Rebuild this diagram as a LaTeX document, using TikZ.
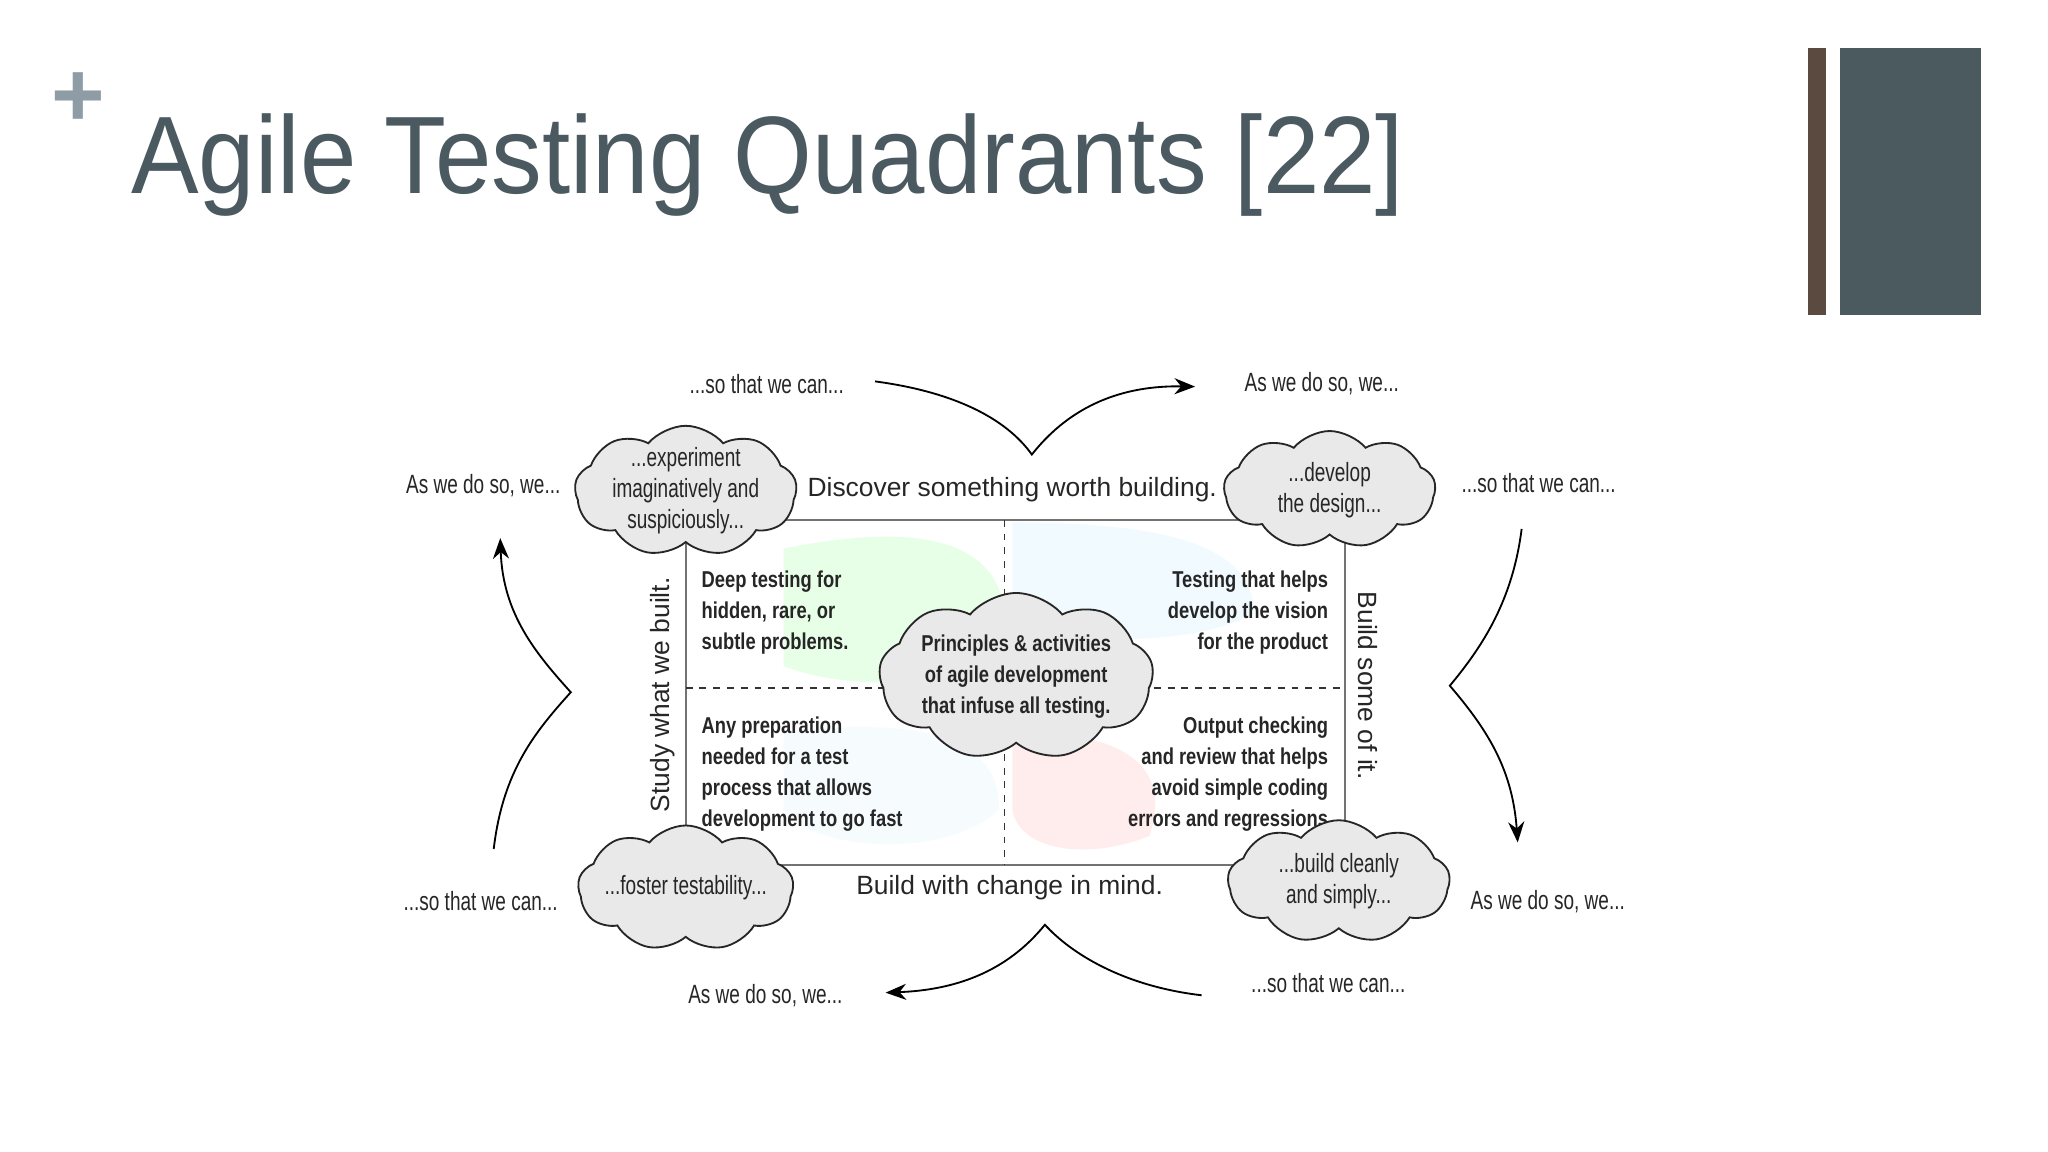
\documentclass[tikz,border=0pt]{standalone}
\usepackage{fontspec}
\setmainfont{Liberation Sans}
\newfontfamily\hand{Liberation Sans}[FakeStretch=0.72]
\newfontfamily\narrowb{Liberation Sans}[FakeStretch=0.8]
\usetikzlibrary{shapes.symbols,arrows.meta}
\definecolor{titlec}{HTML}{4B5A60}
\definecolor{plusc}{HTML}{8E9CA6}
\definecolor{brownc}{HTML}{5A4A3F}
\definecolor{slatec}{HTML}{4B5A5F}
\definecolor{cloudf}{HTML}{E9E9E9}
\tikzset{
 cl/.style={cloud, cloud puffs=9, cloud puff arc=100, draw=black!85, thick, fill=cloudf, inner sep=0pt},
 ct/.style={align=center, font=\hand\fontsize{11.5}{13.5}\selectfont, text=black!85},
 hand/.style={font=\hand\fontsize{11.5}{14}\selectfont, text=black!85},
 qt/.style={font=\narrowb\bfseries\fontsize{10}{13.5}\selectfont, text=black!85},
 edge/.style={font=\fontsize{11.5}{14}\selectfont, text=black!85},
 arr/.style={thick, -{Stealth[length=9pt,width=7pt]}},
 frame/.style={draw=black!55, thick}
}
\begin{document}
\begin{tikzpicture}[x=0.02cm,y=-0.02cm]
\useasboundingbox[fill=white] (0,0) rectangle (1568,882);
% title
\node[text=plusc, font=\bfseries\fontsize{40}{40}\selectfont] (plus) at (60,76) {+};
\node[anchor=base west, text=titlec, font=\fontsize{48}{50}\selectfont\addfontfeature{FakeStretch=0.92}, inner sep=0] (title) at (100,148) {Agile Testing Quadrants [22]};
\fill[brownc] (1384,37) rectangle (1398,241);
\fill[slatec] (1409,37) rectangle (1517,241);
% faded colours
\fill[green!30, opacity=0.3] (600,420) .. controls (700,400) and (770,410) .. (770,480) .. controls (760,530) and (650,530) .. (600,510) -- cycle;
\fill[cyan!15, opacity=0.35] (775,400) .. controls (900,400) and (960,420) .. (960,470) .. controls (900,500) and (800,490) .. (775,470) -- cycle;
\fill[red!20, opacity=0.35] (775,560) .. controls (850,560) and (900,580) .. (880,640) .. controls (830,660) and (780,650) .. (775,620) -- cycle;
\fill[cyan!10, opacity=0.35] (600,560) .. controls (700,550) and (765,560) .. (765,620) .. controls (720,660) and (620,650) .. (600,620) -- cycle;
% frame
\coordinate (f1) at (525,398); \coordinate (f2) at (1030,662);
\draw[frame] (f1) rectangle (f2);
\draw[thick, dashed, black!80] (769,398) -- (769,662);
\draw[thick, dashed, black!80] (525,527) -- (1030,527);
% quadrant texts
\node[qt, anchor=north west, align=left] (q1) at (531,431) {Deep testing for\\hidden, rare, or\\subtle problems.};
\node[qt, anchor=north east, align=right] (q2) at (1023,431) {Testing that helps\\develop the vision\\for the product};
\node[qt, anchor=north west, align=left] (q3) at (531,543) {Any preparation\\needed for a test\\process that allows\\development to go fast};
\node[qt, anchor=north east, align=right] (q4) at (1023,543) {Output checking\\and review that helps\\avoid simple coding\\errors and regressions};
% center cloud
\node[cl, minimum width=210*0.02cm, minimum height=128*0.02cm] (cc) at (778,518) {};
\node[align=center, font=\narrowb\bfseries\fontsize{10}{13.5}\selectfont, text=black!85] (cct) at (cc.center) {Principles \& activities\\of agile development\\that infuse all testing.};
% corner clouds
\node[cl, minimum width=170*0.02cm, minimum height=100*0.02cm] (ctl) at (525,376) {};
\node[ct] (ctlt) at (ctl.center) {...experiment\\imaginatively and\\suspiciously...};
\node[cl, minimum width=162*0.02cm, minimum height=90*0.02cm] (ctr) at (1018,375) {};
\node[ct] (ctrt) at (ctr.center) {...develop\\the design...};
\node[cl, minimum width=165*0.02cm, minimum height=96*0.02cm] (cbl) at (525,680) {};
\node[ct] (cblt) at (cbl.center) {...foster testability...};
\node[cl, minimum width=170*0.02cm, minimum height=94*0.02cm] (cbr) at (1025,675) {};
\node[ct] (cbrt) at (cbr.center) {...build cleanly\\and simply...};
% edge labels
\node[edge] (top) at (775,375) {Discover something worth building.};
\node[edge] (bot) at (773,680) {Build with change in mind.};
\node[edge, rotate=90] (lft) at (507,532) {Study what we built.};
\node[edge, rotate=-90] (rgt) at (1047,525) {Build some of it.};
% outer labels
\node[hand] (l1) at (587,294) {...so that we can...};
\node[hand] (l2) at (1012,294) {As we do so, we...};
\node[hand] (l3) at (370,372) {As we do so, we...};
\node[hand] (l4) at (1178,370) {...so that we can...};
\node[hand] (l5) at (368,690) {...so that we can...};
\node[hand] (l6) at (1185,690) {As we do so, we...};
\node[hand] (l7) at (586,762) {As we do so, we...};
\node[hand] (l8) at (1017,753) {...so that we can...};
% arrows
\coordinate (a1s) at (670,292); \coordinate (a1m) at (790,348); \coordinate (a1e) at (915,296);
\draw[arr] (a1s) .. controls (730,300) and (770,320) .. (a1m) .. controls (820,310) and (860,295) .. (a1e);
\coordinate (a2s) at (378,650); \coordinate (a2m) at (437,530); \coordinate (a2e) at (383,412);
\draw[arr] (a2s) .. controls (385,590) and (410,560) .. (a2m) .. controls (410,500) and (385,470) .. (a2e);
\coordinate (a3s) at (1165,405); \coordinate (a3m) at (1110,525); \coordinate (a3e) at (1162,645);
\draw[arr] (a3s) .. controls (1158,460) and (1135,495) .. (a3m) .. controls (1140,560) and (1158,590) .. (a3e);
\coordinate (a4s) at (920,762); \coordinate (a4m) at (800,708); \coordinate (a4e) at (678,760);
\draw[arr] (a4s) .. controls (860,755) and (820,730) .. (a4m) .. controls (770,745) and (730,758) .. (a4e);
\end{tikzpicture}
\end{document}
